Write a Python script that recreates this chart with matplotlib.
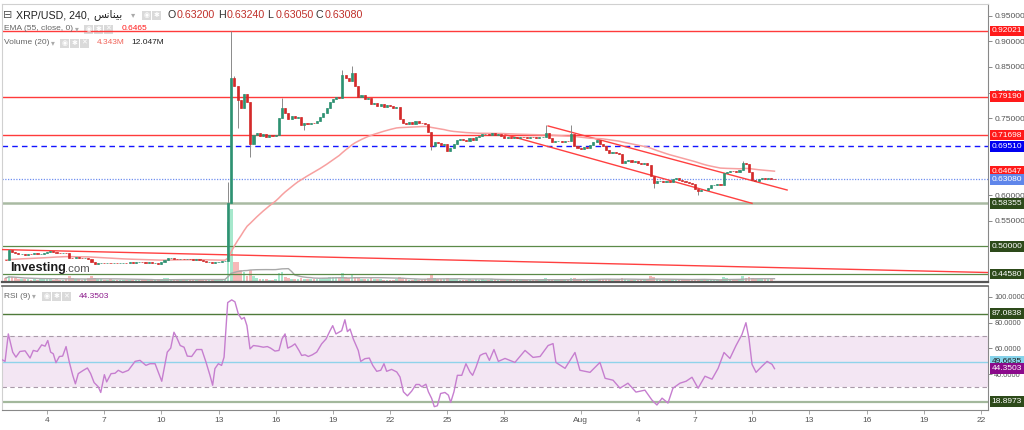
import matplotlib
matplotlib.use("Agg")
import matplotlib.pyplot as plt
import numpy as np
import pandas as pd
from matplotlib.transforms import blended_transform_factory as btf
from matplotlib.patches import Rectangle

# ---------------- data ----------------
start_time = '2023-07-01 20:00'          # first 4h candle
first_open = 0.474
close = [
    0.473,                                              # Jul 1
    0.492, 0.489, 0.486, 0.484, 0.485, 0.483,           # Jul 2
    0.485, 0.484, 0.486, 0.484, 0.485, 0.486,           # Jul 3
    0.489, 0.490, 0.488, 0.487, 0.486, 0.487,           # Jul 4
    0.486, 0.478, 0.477, 0.479, 0.478, 0.477,           # Jul 5
    0.478, 0.476, 0.469, 0.466, 0.467, 0.468,           # Jul 6
    0.467, 0.468, 0.467, 0.468, 0.467, 0.468,           # Jul 7
    0.468, 0.467, 0.469, 0.468, 0.469, 0.470,           # Jul 8
    0.469, 0.468, 0.469, 0.467, 0.468, 0.466,           # Jul 9
    0.470, 0.474, 0.477, 0.478, 0.476, 0.475,           # Jul 10
    0.476, 0.475, 0.476, 0.475, 0.474, 0.475,           # Jul 11
    0.474, 0.471, 0.469, 0.470, 0.468, 0.469,           # Jul 12
    0.470, 0.471, 0.472, 0.584, 0.828, 0.812,           # Jul 13
    0.785, 0.770, 0.798, 0.781, 0.700, 0.718,           # Jul 14
    0.722, 0.716, 0.720, 0.714, 0.718, 0.715,           # Jul 15
    0.717, 0.750, 0.770, 0.760, 0.748, 0.755,           # Jul 16
    0.750, 0.752, 0.736, 0.740, 0.738, 0.741,           # Jul 17
    0.740, 0.745, 0.752, 0.760, 0.770, 0.782,           # Jul 18
    0.788, 0.792, 0.790, 0.834, 0.828, 0.822,           # Jul 19
    0.838, 0.812, 0.792, 0.795, 0.788, 0.790,           # Jul 20
    0.778, 0.780, 0.774, 0.777, 0.772, 0.775,           # Jul 21
    0.773, 0.770, 0.772, 0.748, 0.740, 0.738,           # Jul 22
    0.742, 0.739, 0.744, 0.741, 0.740, 0.738,           # Jul 23
    0.723, 0.695, 0.704, 0.701, 0.698, 0.700,           # Jul 24
    0.686, 0.692, 0.700, 0.707, 0.710, 0.708,           # Jul 25
    0.705, 0.712, 0.708, 0.713, 0.716, 0.719,           # Jul 26
    0.720, 0.718, 0.721, 0.717, 0.719, 0.716,           # Jul 27
    0.712, 0.714, 0.711, 0.713, 0.712, 0.714,           # Jul 28
    0.713, 0.712, 0.714, 0.713, 0.712, 0.713,           # Jul 29
    0.714, 0.722, 0.712, 0.703, 0.705, 0.706,           # Jul 30
    0.704, 0.706, 0.705, 0.720, 0.695, 0.692,           # Jul 31
    0.690, 0.693, 0.692, 0.698, 0.704, 0.707,           # Aug 1
    0.700, 0.696, 0.688, 0.682, 0.684, 0.683,           # Aug 2
    0.680, 0.663, 0.666, 0.668, 0.665, 0.667,           # Aug 3
    0.662, 0.660, 0.663, 0.659, 0.637, 0.623,           # Aug 4
    0.627, 0.628, 0.625, 0.627, 0.626, 0.632,           # Aug 5
    0.634, 0.630, 0.627, 0.625, 0.624, 0.621,           # Aug 6
    0.612, 0.608, 0.610, 0.609, 0.614, 0.619,           # Aug 7
    0.620, 0.621, 0.619, 0.643, 0.645, 0.647,           # Aug 8
    0.646, 0.644, 0.648, 0.662, 0.660, 0.645,           # Aug 9
    0.630, 0.628, 0.631, 0.633, 0.632, 0.634,           # Aug 10
    0.632, 0.6308,                                      # Aug 11
]
volume_m = [
    12,
    18, 15, 12, 9, 9, 9,
    9, 6, 9, 6, 9, 9,
    9, 9, 6, 9, 6, 6,
    9, 18, 12, 9, 9, 6,
    9, 12, 18, 12, 9, 9,
    6, 6, 9, 6, 6, 6,
    6, 6, 6, 6, 6, 6,
    6, 6, 6, 6, 6, 9,
    9, 12, 12, 9, 9, 6,
    6, 9, 6, 6, 6, 6,
    6, 9, 9, 6, 6, 6,
    6, 6, 9, 180, 220, 60,
    60, 36, 30, 18, 36, 18,
    12, 9, 9, 9, 6, 6,
    9, 27, 30, 15, 12, 9,
    9, 9, 12, 9, 9, 9,
    9, 9, 9, 12, 12, 15,
    15, 15, 12, 27, 15, 12,
    21, 15, 12, 9, 9, 9,
    12, 9, 9, 9, 6, 6,
    6, 6, 9, 15, 12, 9,
    6, 6, 9, 6, 6, 9,
    12, 21, 12, 9, 9, 9,
    12, 9, 9, 9, 6, 6,
    6, 9, 6, 9, 6, 9,
    6, 6, 9, 6, 6, 6,
    6, 6, 9, 6, 6, 6,
    6, 6, 6, 6, 6, 6,
    6, 12, 9, 9, 6, 6,
    6, 6, 6, 12, 12, 9,
    9, 9, 6, 9, 9, 9,
    9, 9, 9, 9, 6, 6,
    9, 12, 9, 6, 6, 6,
    6, 6, 9, 9, 18, 15,
    9, 6, 6, 6, 6, 6,
    6, 6, 6, 6, 6, 6,
    9, 9, 9, 6, 6, 9,
    6, 6, 6, 15, 12, 9,
    9, 9, 9, 18, 12, 15,
    12, 9, 9, 9, 9, 9,
    9, 4.343,
]
wick_high = {'2023-07-02 00:00': 0.495, '2023-07-13 12:00': 0.625,
             '2023-07-13 16:00': 0.92021, '2023-07-13 20:00': 0.832,
             '2023-07-16 08:00': 0.789, '2023-07-19 12:00': 0.845,
             '2023-07-20 00:00': 0.852, '2023-07-30 04:00': 0.737,
             '2023-07-31 12:00': 0.737, '2023-08-09 12:00': 0.667}
wick_low = {'2023-07-14 00:00': 0.731, '2023-07-14 16:00': 0.674,
            '2023-07-17 12:00': 0.727, '2023-07-24 04:00': 0.688,
            '2023-08-04 20:00': 0.614, '2023-08-07 04:00': 0.600}

# RSI(9) polyline vertices: day of July (Aug 1 = 32) and value
rsi_day = [1.62, 1.80, 1.97, 2.20, 2.37, 2.58, 2.85, 3.11, 3.28, 3.49, 3.72, 3.90, 4.04, 4.19,
           4.33, 4.47, 4.65, 4.82, 5.00, 5.17, 5.35, 5.49, 5.64, 5.91, 6.12, 6.29, 6.47, 6.69,
           6.82, 7.01, 7.13, 7.36, 7.57, 7.74, 7.97, 8.27, 8.62, 8.88, 9.19, 9.40, 9.67, 10.02,
           10.31, 10.49, 10.66, 10.80, 10.99, 11.19, 11.36, 11.59, 11.85, 12.12, 12.34, 12.55,
           12.69, 12.81, 12.99, 13.16, 13.29, 13.48, 13.69, 13.86, 14.04, 14.21, 14.35, 14.49,
           14.65, 14.83, 15.09, 15.35, 15.56, 15.73, 15.96, 16.17, 16.33, 16.49, 16.63, 16.84,
           17.01, 17.22, 17.36, 17.54, 17.71, 17.92, 18.15, 18.41, 18.64, 18.85, 18.99, 19.16,
           19.46, 19.63, 19.76, 19.90, 20.07, 20.33, 20.46, 20.68, 20.91, 21.09, 21.30, 21.51,
           21.68, 21.82, 22.08, 22.35, 22.52, 22.70, 22.91, 23.13, 23.36, 23.53, 23.66, 23.88,
           24.01, 24.18, 24.32, 24.48, 24.65, 24.88, 25.06, 25.18, 25.35, 25.53, 25.76, 25.98,
           26.19, 26.33, 26.51, 26.72, 26.89, 27.03, 27.21, 27.45, 27.68, 28.03, 28.55, 29.08,
           29.50, 29.87, 30.29, 30.55, 30.70, 31.18, 31.70, 31.96, 32.49, 33.01, 33.28, 33.70,
           34.06, 34.48, 34.90, 35.37, 35.74, 36.00, 36.27, 36.58, 36.84, 37.21, 37.53, 37.84,
           38.16, 38.52, 38.89, 39.21, 39.52, 39.83, 40.15, 40.46, 40.67, 40.83, 40.99, 41.20,
           41.51, 41.78, 42.04, 42.17]
rsi_val = [51.5, 50.0, 71.3, 57.2, 53.3, 57.7, 58.2, 52.6, 58.5, 57.7, 62.8, 61.8, 66.2, 57.2,
           55.9, 49.0, 53.8, 54.1, 61.5, 49.5, 39.2, 32.6, 40.5, 43.1, 44.9, 40.5, 33.6, 30.3,
           25.9, 39.7, 34.1, 40.5, 40.8, 43.1, 41.3, 43.1, 50.0, 50.8, 46.9, 48.2, 48.2, 34.6,
           57.2, 60.3, 72.6, 68.7, 62.3, 61.0, 54.1, 53.8, 59.2, 59.2, 49.5, 39.2,
           31.5, 44.4, 48.2, 46.9, 53.3, 95.6, 97.7, 96.2, 86.7, 82.8, 84.1, 77.7,
           59.7, 62.3, 61.8, 61.0, 61.5, 60.3, 58.0, 58.5, 67.4, 71.3, 60.3, 61.8,
           63.6, 58.5, 54.6, 55.1, 53.8, 55.1, 57.2, 63.6, 67.4, 73.8, 77.7, 71.3,
           73.8, 82.3, 73.1, 75.1, 67.4, 58.5, 50.0, 52.1, 52.6, 46.9, 42.3, 43.1,
           48.2, 42.3, 43.8, 41.8, 37.9, 26.4, 23.3, 26.9, 32.1, 32.1, 30.3, 32.3,
           26.4, 21.3, 14.9, 15.6, 25.1, 25.9, 23.8, 18.2, 26.4, 39.2, 39.2, 48.2,
           41.8, 39.2, 45.6, 54.6, 55.9, 56.4, 50.8, 59.2, 50.0, 52.3, 49.2, 58.5,
           53.1, 53.8, 62.3, 63.8, 49.2, 44.6, 56.9, 43.1, 41.5, 49.2, 36.9, 35.4,
           29.2, 33.1, 26.2, 27.7, 20.0, 16.2, 21.5, 17.7, 29.2, 33.1, 34.6, 37.7,
           29.2, 38.5, 36.2, 44.6, 56.9, 52.3, 62.3, 70.8, 80.0, 67.7, 47.7, 41.5,
           46.2, 50.0, 47.7, 44.35]

price_levels_red = [0.92021, 0.79190, 0.71698]
level_blue = 0.69510
level_ema = 0.64647
level_last = 0.63080
level_green_light = 0.58355
levels_green = [0.50000, 0.44580]
# trend lines: (day0, price0, day1, price1)
trend_long = (1.53, 0.4936, 53.37, 0.4487)
channel_upper = (30.29, 0.7348, 42.83, 0.6098)
channel_lower = (28.03, 0.7181, 40.99, 0.5838)
rsi_levels = {'max': 87.0838, 'mid': 49.6635, 'min': 18.8973, 'last': 44.3503}

xtick_days = [4, 7, 10, 13, 16, 19, 22, 25, 28, 32, 35, 38, 41, 44, 47, 50, 53]
xtick_labels = ['4', '7', '10', '13', '16', '19', '22', '25', '28', 'Aug',
                '4', '7', '10', '13', '16', '19', '22']
# price ticks whose labels are not hidden behind the level boxes
price_ticks = [0.55, 0.60, 0.75, 0.80, 0.85, 0.90, 0.95]
rsi_ticks = [40, 60, 80, 100]

# ---------------- figure ----------------
plt.rcParams['font.family'] = ['Liberation Sans', 'DejaVu Sans']
W, H = 1024, 430
fig = plt.figure(figsize=(W / 100, H / 100), dpi=100)
fig.patch.set_facecolor('white')


def fx(px):
    return px / W


def fy(py):
    return 1 - py / H


ax = fig.add_axes([fx(2), fy(282), fx(988) - fx(2), fy(4) - fy(282)])
axv = ax.twinx()
ax.set_zorder(axv.get_zorder() + 1)
ax.patch.set_visible(False)
axr = fig.add_axes([fx(2), fy(410), fx(988) - fx(2), fy(286) - fy(410)])

XMIN, XMAX = 1.639, 53.37
for a in (ax, axr):
    a.set_xlim(XMIN, XMAX)
ax.set_ylim(0.4302, 0.9729)
axr.set_ylim(12.31, 108.46)
axv.set_ylim(0, 835)

t = pd.date_range(start_time, periods=len(close), freq='4h')
x = ((t - pd.Timestamp('2023-07-01')) / pd.Timedelta(days=1)).to_numpy() + 1.0
c = np.array(close, dtype=float)
o = np.r_[first_open, c[:-1]]
hi = np.maximum(o, c)
lo = np.minimum(o, c)
for k, v in wick_high.items():
    hi[t.get_loc(pd.Timestamp(k))] = v
for k, v in wick_low.items():
    lo[t.get_loc(pd.Timestamp(k))] = v

UP, DN = '#2e9272', '#d42a2a'
up = c >= o
cols = np.where(up, UP, DN)

# volume
vol = np.array(volume_m, dtype=float)
axv.bar(x, vol, width=0.14, color=np.where(up, '#a6e8cc', '#f7b8b8'), linewidth=0)
vma = pd.Series(vol).rolling(20, min_periods=1).mean()
axv.plot(x, vma, color='#a9a9a9', lw=1)
axv.set_yticks([])
for s in axv.spines.values():
    s.set_visible(False)

# horizontal levels
for lv in price_levels_red:
    ax.axhline(lv, color='#ff3b3b', lw=1, zorder=2)
ax.axhline(level_blue, color='#1414ff', lw=1, dashes=(4, 3), zorder=2)
ax.axhline(level_last, color='#6f8ff0', lw=0.9, ls=(0, (1, 1.2)), zorder=2)
ax.axhline(level_green_light, color='#a9baa2', lw=1.8, zorder=2)
for lv in levels_green:
    ax.axhline(lv, color='#5b8a48', lw=0.9, zorder=2)

# trend lines
for (d0, p0, d1, p1) in (trend_long, channel_upper, channel_lower):
    ax.plot([d0, d1], [p0, p1], color='#ff4040', lw=1, zorder=3)

# EMA
ema = pd.Series(c).ewm(span=55, adjust=False).mean()
ax.plot(x, ema, color='#f7a0a0', lw=1.1, zorder=3)

# candles
ax.vlines(x, lo, hi, color='#8a8a8a', lw=0.7, zorder=4)
ax.bar(x, c - o, bottom=o, width=0.11, color=cols, edgecolor=cols, linewidth=0.5, zorder=5)

# axes styling main
ax.yaxis.tick_right()
ax.set_yticks(price_ticks)
ax.set_yticklabels(['%.5f' % p for p in price_ticks])
ax.tick_params(axis='y', right=True, left=False, labelright=True, labelleft=False,
               length=3, width=0.6, color='#777', pad=2, labelsize=6, labelcolor='#555')
ax.tick_params(axis='x', bottom=False, labelbottom=False)
ax.spines['left'].set_color('#d0d0d0')
ax.spines['top'].set_color('#d0d0d0')
ax.spines['right'].set_color('#888')
ax.spines['bottom'].set_color('#555')
ax.spines['bottom'].set_linewidth(1.6)


def plabel(axis, y, txt, fc, tc='white', size=6):
    axis.text(1.0035, y, txt, transform=btf(axis.transAxes, axis.transData), fontsize=size,
              color=tc, va='center', ha='left', clip_on=False, zorder=20,
              bbox=dict(boxstyle='square,pad=0.22', fc=fc, ec='none'))


RED, DG = '#ff1a1a', '#2d4a1a'
for lv in price_levels_red:
    plabel(ax, lv, '%.5f' % lv, RED)
plabel(ax, level_blue, '%.5f' % level_blue, '#0000f0')
plabel(ax, level_ema, '%.5f' % level_ema, RED)
plabel(ax, level_last, '%.5f' % level_last, '#5f86ea')
plabel(ax, level_green_light, '%.5f' % level_green_light, DG)
for lv in levels_green:
    plabel(ax, lv, '%.5f' % lv, DG)

# ---------------- RSI pane ----------------
axr.axhspan(30, 70, color='#f3e6f3', zorder=0, lw=0)
axr.axhline(70, color='#a99aa9', lw=0.8, dashes=(4, 3))
axr.axhline(30, color='#a99aa9', lw=0.8, dashes=(4, 3))
axr.axhline(rsi_levels['mid'], color='#8fd3ea', lw=1)
axr.axhline(rsi_levels['max'], color='#4f7a3a', lw=1)
axr.axhline(rsi_levels['min'], color='#a3b89c', lw=1.6)
axr.plot(rsi_day, rsi_val, color='#c67ecf', lw=1, zorder=3)
axr.yaxis.tick_right()
axr.set_yticks(rsi_ticks)
axr.set_yticklabels(['%.4f' % v for v in rsi_ticks])
axr.tick_params(axis='y', right=True, left=False, labelright=True, labelleft=False,
                length=3, width=0.6, color='#777', pad=1.5, labelsize=5.3, labelcolor='#555')
axr.set_xticks(xtick_days)
axr.set_xticklabels(xtick_labels)
axr.tick_params(axis='x', length=3, width=0.6, color='#999', labelsize=6, labelcolor='#555', pad=2)
axr.spines['left'].set_color('#d0d0d0')
axr.spines['top'].set_color('#666')
axr.spines['top'].set_linewidth(1.2)
axr.spines['right'].set_color('#888')
axr.spines['bottom'].set_color('#888')
plabel(axr, rsi_levels['max'], '%.4f' % rsi_levels['max'], DG)
plabel(axr, rsi_levels['mid'], '%.4f' % rsi_levels['mid'], '#86d3ea', '#222')
plabel(axr, rsi_levels['last'], '%.4f' % rsi_levels['last'], '#8b0a8b')
plabel(axr, rsi_levels['min'], '%.4f' % rsi_levels['min'], DG)

# ---------------- header texts ----------------


def ftext(px, py, s, size=6, color='#666', **kw):
    fig.text(fx(px), fy(py), s, fontsize=size, color=color, va='center', ha='left', **kw)


def icons(px, py, n=3):
    glyphs = ['\u25c9', '\u2731', '\u2715']
    for i in range(n):
        x0 = px + i * 10
        fig.add_artist(Rectangle((fx(x0), fy(py + 4.5)), 9 / W, 9 / H, transform=fig.transFigure,
                                 fc='#dadada', ec='none'))
        fig.text(fx(x0 + 4.5), fy(py), glyphs[i], fontsize=5, color='white',
                 ha='center', va='center', family=['DejaVu Sans'])


ftext(3, 15, '\u229f', 8, '#555', family=['DejaVu Sans'])
ftext(16, 15, 'XRP/USD, 240,', 7.7, '#222')
ftext(93, 15, '\ufeb2\ufee7\ufe8e\ufee8\ufef4\ufe91', 7.7, '#222', family=['DejaVu Sans'])
ftext(131, 15, '\u25be', 6, '#aaa', family=['DejaVu Sans'])
icons(142, 15, 2)
for lx, let, val in [(168, 'O', '0.63200'), (218, 'H', '0.63240'),
                     (267, 'L', '0.63050'), (316, 'C', '0.63080')]:
    ftext(lx, 15, let, 7.7, '#333')
    ftext(lx + 8.5, 15, val, 7.7, '#c0302a')

ftext(4, 29, 'EMA (55, close, 0)', 6, '#666')
ftext(75, 29, '\u25be', 5.5, '#aaa', family=['DejaVu Sans'])
icons(84, 29)
ftext(122, 29, '0.6465', 6, '#ff1a1a')

ftext(4, 43, 'Volume (20)', 6, '#666')
ftext(51, 43, '\u25be', 5.5, '#aaa', family=['DejaVu Sans'])
icons(60, 43)
ftext(97, 43, '4.343M', 6, '#f0645a')
ftext(131, 43, '12.047M', 6, '#222')

ftext(4, 296, 'RSI (9)', 6, '#666')
ftext(32, 296, '\u25be', 5.5, '#aaa', family=['DejaVu Sans'])
icons(42, 296)
ftext(79, 296, '44.3503', 6, '#8b1a8b')

# watermark logo
fig.text(fx(10), fy(268), 'Investing', fontsize=9.2, fontweight='bold', color='#1b1b1b',
         va='center', ha='left')
fig.text(fx(65), fy(268.5), '.com', fontsize=8.2, color='#555', va='center', ha='left')

fig.savefig('out.png', dpi=100, facecolor='white')
